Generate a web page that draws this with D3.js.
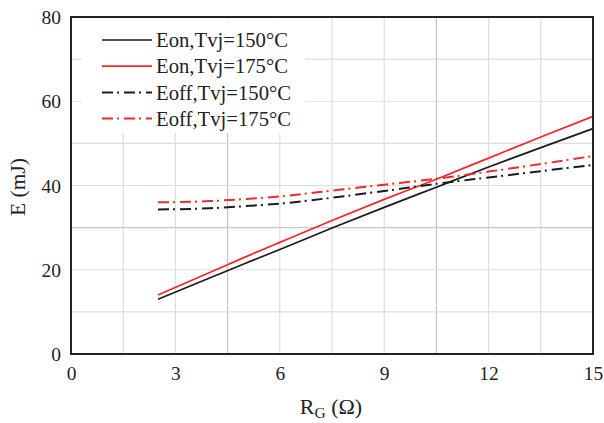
<!DOCTYPE html>
<html>
<head>
<meta charset="utf-8">
<script src="https://cdn.jsdelivr.net/npm/d3@7"></script>
<style>
  html, body { margin: 0; padding: 0; background: #fff; }
  svg { display: block; font-family: "Liberation Serif", "Times New Roman", serif; }
</style>
</head>
<body>
<svg id="chart" width="604" height="423"></svg>
<script>
// Gate resistance (Ω) sample points
const rg = [2.5, 4, 5, 6, 7.5, 9, 10.5, 12, 13.5, 15];
// Switching energies (mJ)
const eon150  = [13.0, 18.1, 21.5, 24.8, 29.9, 34.8, 39.6, 44.4, 49.0, 53.5];
const eon175  = [14.0, 19.4, 23.0, 26.5, 31.7, 36.7, 41.5, 46.5, 51.5, 56.4];
const eoff150 = [34.3, 34.6, 35.1, 35.7, 37.1, 38.7, 40.4, 41.9, 43.4, 44.9];
const eoff175 = [36.0, 36.3, 36.8, 37.4, 38.8, 40.2, 41.6, 43.3, 45.1, 47.0];
const seriesNames = ["Eon,Tvj=150°C", "Eon,Tvj=175°C", "Eoff,Tvj=150°C", "Eoff,Tvj=175°C"];
const xTicks = [0, 3, 6, 9, 12, 15];
const yTicks = [0, 20, 40, 60, 80];

const series = [
  { name: seriesNames[0], values: eon150,  color: "#1c1c1c", dash: null },
  { name: seriesNames[1], values: eon175,  color: "#f02828", dash: null },
  { name: seriesNames[2], values: eoff150, color: "#1c1c1c", dash: "11,4,2,5" },
  { name: seriesNames[3], values: eoff175, color: "#f02828", dash: "11,4,2,5" }
];

const svg = d3.select("#chart");
const m = { left: 71, right: 11, top: 17, bottom: 69 };
const W = 604, H = 423;
const x = d3.scaleLinear().domain([0, 15]).range([m.left, W - m.right]);
const y = d3.scaleLinear().domain([0, 80]).range([H - m.bottom, m.top]);

// grid
const grid = svg.append("g");
d3.range(1.5, 15, 1.5).forEach(v => {
  grid.append("line")
    .attr("x1", x(v)).attr("x2", x(v))
    .attr("y1", y(0)).attr("y2", y(80))
    .attr("stroke", (Math.abs(v - 4.5) < 1e-6 || Math.abs(v - 10.5) < 1e-6) ? "#c4c4c4" : "#dedede")
    .attr("stroke-width", 1.2);
});
d3.range(10, 80, 10).forEach(v => {
  grid.append("line")
    .attr("x1", x(0)).attr("x2", x(15))
    .attr("y1", y(v)).attr("y2", y(v))
    .attr("stroke", v === 30 ? "#c8c8c8" : "#dedede")
    .attr("stroke-width", 1.2);
});

// legend backing hides the grid behind it
svg.append("rect")
  .attr("x", 82).attr("y", y(80) + 2)
  .attr("width", 223).attr("height", 114)
  .attr("fill", "#fff");

// curves
const line = d3.line()
  .x((d, i) => x(rg[i]))
  .y(d => y(d))
  .curve(d3.curveMonotoneX);

svg.append("g").selectAll("path")
  .data(series)
  .join("path")
  .attr("d", d => line(d.values))
  .attr("fill", "none")
  .attr("stroke", d => d.color)
  .attr("stroke-width", d => d.dash ? 2 : 1.7)
  .attr("stroke-dasharray", d => d.dash);

// axes
const xAxis = d3.axisBottom(x).tickValues(xTicks).tickSize(0).tickPadding(12);
const yAxis = d3.axisLeft(y).tickValues(yTicks).tickSize(0).tickPadding(10);

const gx = svg.append("g").attr("transform", `translate(0,${y(0)})`).call(xAxis);
const gy = svg.append("g").attr("transform", `translate(${x(0)},0)`).call(yAxis);
[gx, gy].forEach(g => {
  g.select(".domain").remove();
  g.selectAll("text")
    .attr("font-family", "Liberation Serif, Times New Roman, serif")
    .attr("font-size", 19.5)
    .attr("fill", "#222");
});
gy.selectAll("text").attr("dy", "0.34em");

// frame
svg.append("rect")
  .attr("x", x(0)).attr("y", y(80))
  .attr("width", x(15) - x(0)).attr("height", y(0) - y(80))
  .attr("fill", "none")
  .attr("stroke", "#222")
  .attr("stroke-width", 2);

// legend
const lg = svg.append("g");
series.forEach((s, i) => {
  const ly = 40 + i * 26.2;
  lg.append("line")
    .attr("x1", 102).attr("x2", 152)
    .attr("y1", ly).attr("y2", ly)
    .attr("stroke", s.color)
    .attr("stroke-width", s.dash ? 2 : 1.7)
    .attr("stroke-dasharray", s.dash);
  lg.append("text")
    .attr("x", 156).attr("y", ly)
    .attr("dy", "0.35em")
    .attr("font-size", 20.7)
    .attr("fill", "#222")
    .text(s.name);
});

// axis titles
const xt = svg.append("text")
  .attr("x", 331).attr("y", 414)
  .attr("text-anchor", "middle")
  .attr("font-size", 22)
  .attr("fill", "#222");
xt.append("tspan").text("R");
xt.append("tspan").attr("font-size", 15.5).attr("dy", 4).text("G");
xt.append("tspan").attr("dy", -4).text(" (Ω)");

svg.append("text")
  .attr("transform", "translate(25,187) rotate(-90)")
  .attr("text-anchor", "middle")
  .attr("font-size", 21.5)
  .attr("fill", "#222")
  .text("E (mJ)");
</script>
</body>
</html>
